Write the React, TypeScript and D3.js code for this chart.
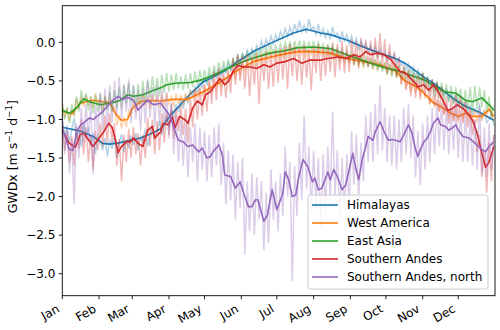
import React from 'react';
import * as d3 from 'd3';

const MONTHS = ['Jan', 'Feb', 'Mar', 'Apr', 'May', 'Jun', 'Jul', 'Aug', 'Sep', 'Oct', 'Nov', 'Dec'];
const MONTH_START_DAYS = [0, 31, 59, 90, 120, 151, 181, 212, 243, 273, 304, 334];
const Y_TICKS = [0, -0.5, -1, -1.5, -2, -2.5, -3];
const SERIES_NAMES = ['Himalayas', 'West America', 'East Asia', 'Southern Andes', 'Southern Andes, north'];
const COLORS = ['#1f77b4', '#ff7f0e', '#2ca02c', '#d62728', '#9467bd'];
const RAW_STEP_DAYS = 2;

// smoothed series (day of year, value)
const himalayasDays = [0, 15, 26, 34, 40, 49, 57, 66, 74, 83, 91, 99, 108, 119, 136, 148, 161, 176, 186, 195, 206, 218, 226, 240, 254, 268, 281, 289, 306, 315, 329, 340, 351, 364];
const himalayasSmooth = [-1.10, -1.15, -1.22, -1.31, -1.32, -1.30, -1.27, -1.24, -1.19, -1.12, -0.95, -0.82, -0.67, -0.51, -0.38, -0.25, -0.12, -0.01, 0.06, 0.12, 0.17, 0.12, 0.10, 0.03, -0.06, -0.14, -0.21, -0.27, -0.46, -0.55, -0.72, -0.83, -0.90, -1.01];

const westAmericaDays = [0, 8, 15, 26, 34, 40, 46, 50, 55, 59, 66, 74, 83, 93, 105, 119, 133, 148, 161, 176, 188, 198, 212, 226, 240, 254, 268, 281, 289, 298, 304, 312, 321, 329, 334, 340, 346, 354, 360, 364];
const westAmericaSmooth = [-0.89, -0.93, -0.79, -0.75, -0.77, -0.78, -0.95, -1.01, -1.00, -0.86, -0.77, -0.75, -0.76, -0.74, -0.74, -0.64, -0.52, -0.36, -0.25, -0.19, -0.15, -0.12, -0.12, -0.14, -0.21, -0.25, -0.29, -0.37, -0.50, -0.57, -0.64, -0.77, -0.85, -0.93, -0.96, -0.92, -0.96, -0.96, -0.87, -0.96];

const eastAsiaDays = [0, 6, 12, 18, 23, 32, 43, 49, 55, 60, 68, 77, 83, 88, 95, 108, 119, 131, 142, 153, 164, 175, 188, 198, 212, 226, 240, 249, 260, 274, 281, 289, 298, 306, 315, 323, 332, 340, 346, 354, 360, 364];
const eastAsiaSmooth = [-0.88, -0.92, -0.85, -0.73, -0.77, -0.81, -0.78, -0.75, -0.68, -0.70, -0.68, -0.62, -0.59, -0.55, -0.53, -0.52, -0.48, -0.40, -0.32, -0.25, -0.19, -0.14, -0.11, -0.07, -0.06, -0.08, -0.16, -0.21, -0.27, -0.34, -0.36, -0.40, -0.45, -0.49, -0.58, -0.64, -0.66, -0.75, -0.77, -0.72, -0.81, -0.88];

const southernAndesDays = [0, 2, 6, 11, 15, 18, 21, 26, 32, 35, 39, 42, 45, 47, 50, 55, 57, 60, 64, 68, 72, 76, 78, 83, 85, 89, 93, 95, 99, 104, 106, 110, 114, 118, 121, 125, 129, 133, 137, 140, 144, 148, 153, 159, 164, 170, 175, 181, 188, 195, 202, 209, 218, 224, 232, 240, 246, 251, 256, 260, 266, 271, 277, 281, 285, 289, 294, 298, 300, 305, 309, 313, 317, 321, 325, 329, 333, 338, 342, 346, 350, 354, 357, 360, 364];
const southernAndesSmooth = [-1.15, -1.20, -1.31, -1.36, -1.20, -1.18, -1.24, -1.35, -1.22, -1.16, -1.05, -1.10, -1.27, -1.43, -1.35, -1.28, -1.30, -1.24, -1.31, -1.35, -1.14, -1.09, -1.24, -1.16, -1.05, -1.07, -0.97, -1.11, -0.96, -1.01, -1.05, -0.85, -0.76, -0.81, -0.68, -0.64, -0.55, -0.47, -0.55, -0.51, -0.38, -0.30, -0.32, -0.32, -0.34, -0.29, -0.32, -0.27, -0.25, -0.21, -0.27, -0.23, -0.23, -0.21, -0.19, -0.21, -0.16, -0.19, -0.12, -0.16, -0.14, -0.16, -0.22, -0.30, -0.38, -0.39, -0.47, -0.53, -0.58, -0.55, -0.62, -0.55, -0.64, -0.75, -0.88, -0.86, -0.81, -0.86, -0.92, -1.01, -1.18, -1.44, -1.62, -1.55, -1.35];

const southernAndesNorthDays = [0, 1, 4, 6, 9, 12, 15, 19, 23, 26, 30, 34, 39, 43, 47, 51, 55, 60, 64, 68, 72, 77, 83, 87, 91, 95, 98, 102, 106, 110, 115, 118, 122, 125, 127, 132, 135, 137, 142, 146, 150, 154, 157, 160, 163, 165, 170, 173, 177, 181, 186, 188, 191, 194, 197, 199, 203, 207, 211, 213, 216, 219, 224, 226, 229, 232, 236, 239, 241, 245, 247, 250, 253, 256, 258, 262, 264, 268, 271, 275, 278, 281, 285, 288, 292, 295, 298, 300, 302, 305, 308, 311, 313, 317, 319, 323, 326, 329, 332, 334, 338, 343, 347, 351, 354, 357, 360, 364];
const southernAndesNorthSmooth = [-1.12, -1.16, -1.30, -1.39, -1.40, -1.17, -1.08, -1.03, -0.98, -1.00, -0.95, -0.90, -0.81, -0.75, -0.70, -0.74, -0.71, -0.75, -0.88, -0.81, -0.75, -0.81, -0.79, -0.87, -0.96, -1.15, -1.27, -1.29, -1.35, -1.33, -1.42, -1.37, -1.50, -1.48, -1.42, -1.33, -1.46, -1.72, -1.74, -1.89, -1.81, -2.00, -2.13, -2.13, -2.04, -2.04, -2.32, -2.24, -1.91, -2.17, -1.96, -1.68, -1.78, -2.00, -1.98, -1.78, -1.52, -1.61, -1.81, -1.76, -1.91, -1.89, -1.68, -1.78, -1.65, -1.74, -1.91, -1.85, -1.72, -1.44, -1.59, -1.78, -1.52, -1.35, -1.22, -1.27, -1.16, -1.03, -1.14, -1.27, -1.26, -1.27, -1.29, -1.20, -1.07, -1.18, -1.39, -1.48, -1.39, -1.29, -1.24, -1.14, -1.05, -0.98, -1.07, -1.09, -1.14, -1.11, -1.07, -1.14, -1.22, -1.24, -1.29, -1.35, -1.39, -1.42, -1.35, -1.29];

// raw daily values sampled every RAW_STEP_DAYS days from Jan 1
const himalayasRaw = [
  -1.02, -1.21, -1.08, -1.30, -1.12, -0.98, -1.25, -1.15, -1.36, -1.05,
  -1.22, -1.10, -1.34, -1.18, -1.45, -1.20, -1.28, -1.40, -1.24, -1.48,
  -1.26, -1.38, -1.22, -1.50, -1.30, -1.19, -1.42, -1.28, -1.36, -1.21,
  -1.33, -1.18, -1.40, -1.22, -1.30, -1.12, -1.35, -1.20, -1.08, -1.26,
  -1.15, -1.02, -1.20, -1.08, -0.95, -1.10, -0.88, -0.98, -0.80, -0.90,
  -0.72, -0.86, -0.70, -0.78, -0.62, -0.70, -0.58, -0.66, -0.50, -0.60,
  -0.45, -0.56, -0.42, -0.50, -0.38, -0.46, -0.35, -0.44, -0.32, -0.40,
  -0.27, -0.36, -0.24, -0.30, -0.18, -0.28, -0.15, -0.22, -0.10, -0.20,
  -0.08, -0.16, -0.04, -0.12, 0.02, -0.08, 0.04, -0.05, 0.08, -0.02,
  0.10, 0.02, 0.14, 0.05, 0.18, 0.08, 0.20, 0.10, 0.24, 0.12,
  0.28, 0.14, 0.22, 0.12, 0.30, 0.16, 0.20, 0.10, 0.24, 0.08,
  0.18, 0.06, 0.15, 0.04, 0.20, 0.08, 0.12, 0.00, 0.14, 0.02,
  0.10, -0.02, 0.08, -0.04, 0.05, -0.10, 0.02, -0.06, -0.02, -0.12,
  -0.04, -0.15, -0.06, -0.20, -0.08, -0.18, -0.12, -0.24, -0.14, -0.22,
  -0.16, -0.28, -0.20, -0.30, -0.26, -0.36, -0.28, -0.40, -0.32, -0.44,
  -0.36, -0.48, -0.40, -0.52, -0.46, -0.56, -0.50, -0.62, -0.54, -0.65,
  -0.58, -0.68, -0.62, -0.74, -0.66, -0.78, -0.70, -0.82, -0.76, -0.86,
  -0.78, -0.90, -0.82, -0.94, -0.86, -0.92, -0.84, -0.98, -0.88, -1.04,
  -1.00, -0.92, -1.08,
];
const westAmericaRaw = [
  -0.80, -0.98, -0.85, -1.02, -0.88, -0.95, -0.72, -0.86, -0.70, -0.84,
  -0.68, -0.82, -0.70, -0.85, -0.66, -0.80, -0.74, -0.88, -0.70, -0.84,
  -0.72, -0.90, -0.85, -1.08, -0.94, -1.12, -0.96, -1.10, -0.88, -0.95,
  -0.78, -0.90, -0.70, -0.84, -0.66, -0.82, -0.70, -0.86, -0.68, -0.80,
  -0.70, -0.84, -0.68, -0.82, -0.66, -0.80, -0.70, -0.84, -0.66, -0.80,
  -0.68, -0.82, -0.66, -0.78, -0.62, -0.74, -0.60, -0.72, -0.58, -0.70,
  -0.56, -0.68, -0.54, -0.64, -0.50, -0.60, -0.46, -0.58, -0.44, -0.52,
  -0.40, -0.50, -0.36, -0.46, -0.32, -0.42, -0.28, -0.38, -0.24, -0.34,
  -0.22, -0.30, -0.18, -0.28, -0.16, -0.26, -0.14, -0.24, -0.12, -0.22,
  -0.12, -0.22, -0.10, -0.20, -0.08, -0.18, -0.06, -0.16, -0.06, -0.18,
  -0.06, -0.16, -0.04, -0.18, -0.08, -0.16, -0.06, -0.18, -0.08, -0.16,
  -0.08, -0.20, -0.10, -0.18, -0.12, -0.22, -0.14, -0.24, -0.16, -0.26,
  -0.16, -0.26, -0.18, -0.28, -0.20, -0.30, -0.20, -0.32, -0.22, -0.30,
  -0.22, -0.34, -0.24, -0.36, -0.26, -0.34, -0.28, -0.40, -0.30, -0.42,
  -0.32, -0.44, -0.38, -0.52, -0.44, -0.58, -0.50, -0.62, -0.52, -0.64,
  -0.56, -0.68, -0.60, -0.72, -0.68, -0.80, -0.72, -0.84, -0.76, -0.88,
  -0.80, -0.92, -0.84, -0.96, -0.88, -1.00, -0.90, -1.04, -0.92, -1.00,
  -0.86, -0.98, -0.90, -1.02, -0.88, -1.04, -0.90, -1.02, -0.88, -0.96,
  -0.80, -0.94, -1.02,
];
const eastAsiaRaw = [
  -0.78, -1.00, -0.84, -1.05, -0.80, -0.95, -0.70, -0.90, -0.62, -0.80,
  -0.66, -0.88, -0.70, -0.92, -0.68, -0.90, -0.66, -0.94, -0.70, -0.88,
  -0.64, -0.90, -0.62, -0.86, -0.58, -0.84, -0.55, -0.80, -0.52, -0.78,
  -0.56, -0.82, -0.54, -0.80, -0.50, -0.78, -0.48, -0.72, -0.44, -0.70,
  -0.46, -0.70, -0.42, -0.66, -0.40, -0.64, -0.42, -0.62, -0.40, -0.60,
  -0.44, -0.62, -0.42, -0.60, -0.40, -0.58, -0.38, -0.56, -0.36, -0.54,
  -0.36, -0.52, -0.32, -0.48, -0.30, -0.44, -0.26, -0.40, -0.24, -0.38,
  -0.22, -0.36, -0.20, -0.32, -0.16, -0.30, -0.14, -0.26, -0.12, -0.24,
  -0.12, -0.22, -0.10, -0.20, -0.08, -0.18, -0.06, -0.16, -0.04, -0.14,
  -0.04, -0.14, -0.02, -0.12, 0.00, -0.10, 0.00, -0.12, 0.02, -0.10,
  0.02, -0.10, 0.02, -0.12, 0.00, -0.10, 0.02, -0.12, 0.00, -0.10,
  -0.02, -0.14, -0.02, -0.14, -0.04, -0.16, -0.08, -0.20, -0.10, -0.22,
  -0.12, -0.24, -0.14, -0.26, -0.16, -0.28, -0.18, -0.30, -0.20, -0.32,
  -0.20, -0.34, -0.22, -0.36, -0.24, -0.38, -0.26, -0.42, -0.28, -0.44,
  -0.28, -0.46, -0.30, -0.48, -0.32, -0.50, -0.34, -0.52, -0.36, -0.56,
  -0.38, -0.58, -0.40, -0.60, -0.44, -0.66, -0.48, -0.70, -0.50, -0.72,
  -0.52, -0.76, -0.54, -0.78, -0.56, -0.80, -0.58, -0.82, -0.60, -0.86,
  -0.62, -0.88, -0.58, -0.90, -0.56, -0.86, -0.58, -0.84, -0.62, -0.90,
  -0.70, -0.96, -0.82,
];
const southernAndesRaw = [
  -1.05, -1.40, -1.15, -1.55, -1.22, -1.60, -1.10, -1.38, -1.00, -1.45,
  -1.10, -1.55, -1.20, -1.65, -1.15, -1.40, -1.05, -1.35, -0.95, -1.30,
  -0.92, -1.30, -1.05, -1.60, -1.25, -1.80, -1.20, -1.55, -1.12, -1.50,
  -1.10, -1.45, -1.18, -1.60, -1.20, -1.50, -0.98, -1.35, -1.00, -1.45,
  -1.02, -1.40, -0.92, -1.30, -0.88, -1.20, -0.80, -1.25, -0.85, -1.15,
  -0.82, -1.20, -0.86, -1.30, -0.72, -1.10, -0.62, -1.00, -0.60, -0.95,
  -0.55, -0.90, -0.48, -0.80, -0.38, -0.75, -0.34, -0.70, -0.40, -0.72,
  -0.36, -0.66, -0.20, -0.55, -0.15, -0.50, -0.18, -0.60, -0.16, -0.70,
  -0.18, -0.55, -0.14, -0.80, -0.16, -0.50, -0.12, -0.60, -0.14, -0.58,
  -0.10, -0.52, -0.08, -0.48, -0.05, -0.60, -0.02, -0.44, -0.06, -0.50,
  -0.08, -0.55, -0.04, -0.46, -0.10, -0.62, -0.06, -0.40, -0.02, -0.50,
  -0.06, -0.44, -0.04, -0.38, 0.00, -0.45, -0.02, -0.36, 0.02, -0.40,
  -0.04, -0.38, 0.04, -0.30, 0.02, -0.34, 0.06, -0.28, 0.04, -0.32,
  0.02, -0.30, 0.06, -0.28, 0.12, -0.32, 0.04, -0.40, -0.02, -0.38,
  -0.12, -0.45, -0.20, -0.55, -0.30, -0.62, -0.36, -0.70, -0.40, -0.72,
  -0.42, -0.74, -0.40, -0.70, -0.46, -0.80, -0.48, -0.82, -0.52, -0.90,
  -0.58, -0.94, -0.70, -1.05, -0.72, -1.02, -0.68, -1.00, -0.70, -1.05,
  -0.76, -1.10, -0.86, -1.20, -1.00, -1.42, -1.20, -1.75, -1.40, -1.95,
  -1.30, -1.80, -1.20,
];
const southernAndesNorthRaw = [
  -0.95, -1.45, -1.10, -1.70, -1.25, -2.10, -1.05, -1.50, -0.85, -1.30,
  -0.80, -1.25, -0.78, -1.70, -0.82, -1.20, -0.65, -1.15, -0.60, -1.10,
  -0.55, -1.05, -0.50, -0.95, -0.45, -1.00, -0.55, -0.90, -0.48, -1.05,
  -0.55, -1.00, -0.62, -1.15, -0.60, -1.05, -0.50, -0.98, -0.58, -1.10,
  -0.55, -1.05, -0.60, -1.10, -0.65, -1.25, -0.78, -1.45, -0.95, -1.55,
  -1.00, -1.60, -1.05, -1.75, -1.10, -1.55, -1.05, -1.80, -1.10, -1.65,
  -1.15, -1.80, -1.20, -1.75, -1.10, -1.60, -1.05, -1.85, -1.30, -2.10,
  -1.40, -2.05, -1.45, -2.30, -1.55, -2.15, -1.50, -2.75, -1.80, -2.45,
  -1.70, -2.50, -1.75, -2.30, -1.80, -2.70, -1.95, -2.60, -1.65, -2.30,
  -1.80, -2.45, -1.70, -2.25, -1.35, -2.00, -1.55, -3.10, -1.60, -2.25,
  -1.30, -2.05, -0.95, -1.90, -1.35, -2.20, -1.40, -2.15, -1.50, -2.40,
  -1.45, -2.20, -1.35, -2.05, -0.90, -2.00, -1.40, -2.30, -1.50, -2.20,
  -1.45, -2.15, -1.15, -1.85, -1.20, -2.05, -1.30, -1.80, -0.95, -1.55,
  -0.90, -1.55, -0.80, -1.45, -0.55, -1.40, -0.85, -1.55, -0.95, -1.60,
  -0.95, -1.65, -1.00, -1.55, -0.85, -1.45, -0.80, -1.50, -0.95, -1.75,
  -1.15, -1.85, -1.05, -1.65, -0.95, -1.55, -0.85, -1.45, -0.75, -1.35,
  -0.78, -1.40, -0.80, -1.45, -0.85, -1.40, -0.80, -1.50, -0.88, -1.55,
  -0.90, -1.55, -0.95, -1.60, -1.00, -1.65, -0.78, -1.70, -1.10, -1.75,
  -1.05, -1.65, -1.20,
];

const W = 500;
const H = 330;
const M = { left: 62.3, right: 5, top: 5.7, bottom: 34.3 };
const X_DOMAIN: [number, number] = [0, 365];
const Y_DOMAIN: [number, number] = [-3.285, 0.475];
const FONT = 'DejaVu Sans';

export default function App() {
  const x = d3.scaleLinear().domain(X_DOMAIN).range([M.left, W - M.right]);
  const y = d3.scaleLinear().domain(Y_DOMAIN).range([H - M.bottom, M.top]);
  const fmt = d3.format('.1f');

  const series = [
    { name: SERIES_NAMES[0], color: COLORS[0], raw: himalayasRaw, days: himalayasDays, smooth: himalayasSmooth },
    { name: SERIES_NAMES[1], color: COLORS[1], raw: westAmericaRaw, days: westAmericaDays, smooth: westAmericaSmooth },
    { name: SERIES_NAMES[2], color: COLORS[2], raw: eastAsiaRaw, days: eastAsiaDays, smooth: eastAsiaSmooth },
    { name: SERIES_NAMES[3], color: COLORS[3], raw: southernAndesRaw, days: southernAndesDays, smooth: southernAndesSmooth },
    { name: SERIES_NAMES[4], color: COLORS[4], raw: southernAndesNorthRaw, days: southernAndesNorthDays, smooth: southernAndesNorthSmooth },
  ];

  const rawPath = (vals: number[]) =>
    d3.line<number>().x((_, i) => x(i * RAW_STEP_DAYS)).y((v) => y(v))(vals) || '';
  const smoothPath = (days: number[], vals: number[]) =>
    d3.line<number>().x((_, i) => x(days[i])).y((v) => y(v))(vals) || '';

  const x0 = M.left;
  const x1 = W - M.right;
  const y0 = M.top;
  const y1 = H - M.bottom;

  const legend = { x: 308, y: 195, w: 180, h: 94, row: 18 };

  return (
    <svg
      width={W}
      height={H}
      style={{ position: 'absolute', left: 0, top: 0, background: '#fff' }}
      fontFamily={FONT}
    >
      <defs>
        <clipPath id="plotArea">
          <rect x={x0} y={y0} width={x1 - x0} height={y1 - y0} />
        </clipPath>
      </defs>
      <rect x={0} y={0} width={W} height={H} fill="#fff" />
      <g clipPath="url(#plotArea)">
        {series.map((s) => (
          <g key={s.name}>
            <path d={rawPath(s.raw)} fill="none" stroke={s.color} strokeOpacity={0.33} strokeWidth={1.5} />
            <path d={smoothPath(s.days, s.smooth)} fill="none" stroke={s.color} strokeWidth={1.6} strokeLinejoin="round" />
          </g>
        ))}
      </g>
      <rect x={x0} y={y0} width={x1 - x0} height={y1 - y0} fill="none" stroke="#000" strokeWidth={0.9} />
      {Y_TICKS.map((t) => (
        <g key={t}>
          <line x1={x0 - 3.5} x2={x0} y1={y(t)} y2={y(t)} stroke="#000" strokeWidth={0.9} />
          <text x={x0 - 7} y={y(t)} dy="0.36em" textAnchor="end" fontSize={12} fill="#000">
            {fmt(t)}
          </text>
        </g>
      ))}
      {MONTH_START_DAYS.map((d, i) => (
        <g key={MONTHS[i]}>
          <line x1={x(d)} x2={x(d)} y1={y1} y2={y1 + 3.5} stroke="#000" strokeWidth={0.9} />
          <text
            transform={`translate(${x(d) - 2},${y1 + 15.5}) rotate(-30)`}
            textAnchor="end"
            fontSize={12}
            fill="#000"
          >
            {MONTHS[i]}
          </text>
        </g>
      ))}
      <text
        transform={`translate(17,${(y0 + y1) / 2 + 6}) rotate(-90)`}
        textAnchor="middle"
        fontSize={12.5}
        fill="#000"
      >
        GWDx [m s<tspan fontSize={8.8} dy={-5}>−1</tspan>
        <tspan dy={5}> d</tspan>
        <tspan fontSize={8.8} dy={-5}>−1</tspan>
        <tspan dy={5}>]</tspan>
      </text>
      <g>
        <rect
          x={legend.x}
          y={legend.y}
          width={legend.w}
          height={legend.h}
          rx={2.5}
          fill="#fff"
          fillOpacity={0.8}
          stroke="#cccccc"
          strokeWidth={1}
        />
        {series.map((s, i) => {
          const cy = legend.y + 10 + i * legend.row;
          return (
            <g key={s.name}>
              <line x1={legend.x + 4} x2={legend.x + 30} y1={cy} y2={cy} stroke={s.color} strokeWidth={1.6} />
              <text x={legend.x + 39} y={cy} dy="0.36em" fontSize={12} fill="#000">
                {s.name}
              </text>
            </g>
          );
        })}
      </g>
    </svg>
  );
}
